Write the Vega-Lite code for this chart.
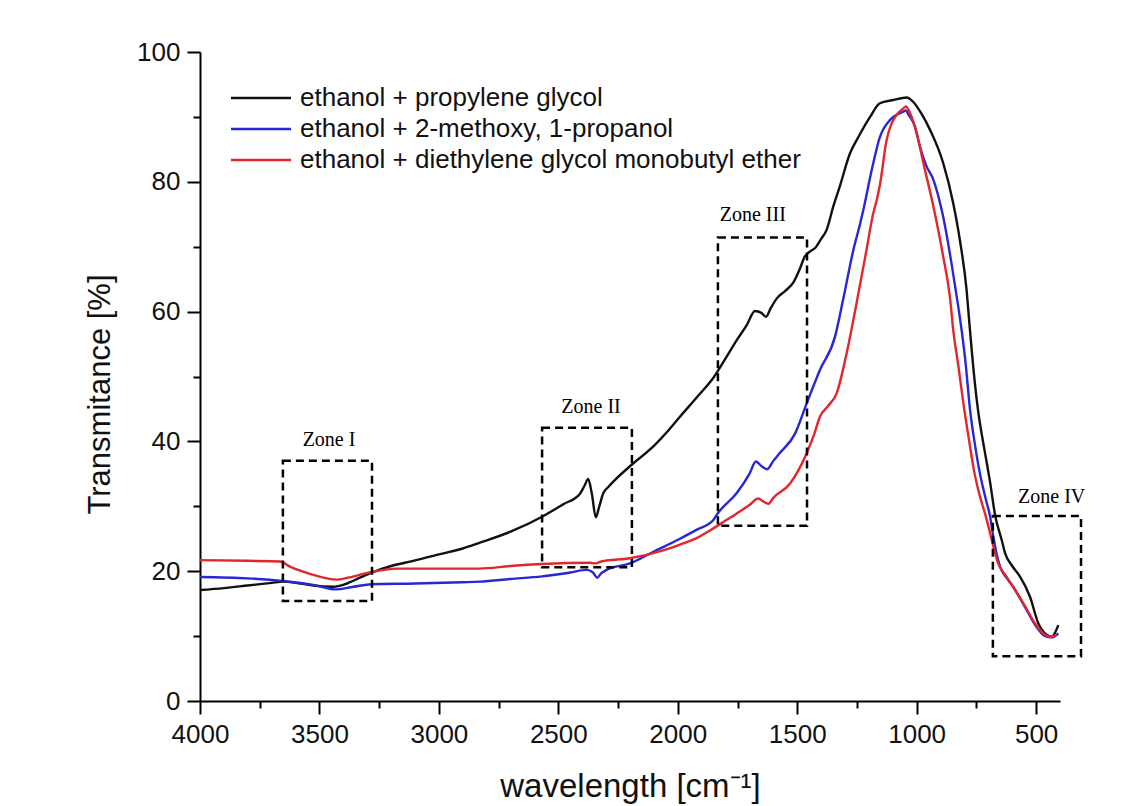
{
  "$schema": "https://vega.github.io/schema/vega-lite/v6.json",
  "width": 860,
  "height": 649,
  "autosize": {"type": "none"},
  "padding": {"left": 200, "top": 52, "right": 78, "bottom": 105},
  "background": "white",
  "config": {"view": {"stroke": null}},
  "resolve": {"axis": {"x": "independent", "y": "independent"}},
  "datasets": {
    "spectra": [
      {"s":"ethanol + propylene glycol","w":4000,"t":17.1},{"s":"ethanol + propylene glycol","w":3900,"t":17.4},{"s":"ethanol + propylene glycol","w":3800,"t":17.8},{"s":"ethanol + propylene glycol","w":3700,"t":18.2},{"s":"ethanol + propylene glycol","w":3653,"t":18.4},{"s":"ethanol + propylene glycol","w":3580,"t":18.1},{"s":"ethanol + propylene glycol","w":3526,"t":17.8},{"s":"ethanol + propylene glycol","w":3442,"t":17.6},{"s":"ethanol + propylene glycol","w":3386,"t":18.1},{"s":"ethanol + propylene glycol","w":3330,"t":19.0},{"s":"ethanol + propylene glycol","w":3280,"t":19.8},{"s":"ethanol + propylene glycol","w":3200,"t":20.8},{"s":"ethanol + propylene glycol","w":3107,"t":21.6},{"s":"ethanol + propylene glycol","w":3000,"t":22.6},{"s":"ethanol + propylene glycol","w":2900,"t":23.5},{"s":"ethanol + propylene glycol","w":2828,"t":24.4},{"s":"ethanol + propylene glycol","w":2700,"t":26.1},{"s":"ethanol + propylene glycol","w":2568,"t":28.4},{"s":"ethanol + propylene glycol","w":2480,"t":30.3},{"s":"ethanol + propylene glycol","w":2410,"t":31.9},{"s":"ethanol + propylene glycol","w":2390,"t":33.2},{"s":"ethanol + propylene glycol","w":2375,"t":34.2},{"s":"ethanol + propylene glycol","w":2360,"t":32.0},{"s":"ethanol + propylene glycol","w":2343,"t":28.3},{"s":"ethanol + propylene glycol","w":2330,"t":29.8},{"s":"ethanol + propylene glycol","w":2312,"t":32.0},{"s":"ethanol + propylene glycol","w":2290,"t":33.0},{"s":"ethanol + propylene glycol","w":2270,"t":33.8},{"s":"ethanol + propylene glycol","w":2193,"t":36.4},{"s":"ethanol + propylene glycol","w":2100,"t":39.3},{"s":"ethanol + propylene glycol","w":2046,"t":41.4},{"s":"ethanol + propylene glycol","w":1991,"t":43.8},{"s":"ethanol + propylene glycol","w":1920,"t":46.8},{"s":"ethanol + propylene glycol","w":1851,"t":49.8},{"s":"ethanol + propylene glycol","w":1800,"t":52.8},{"s":"ethanol + propylene glycol","w":1753,"t":55.6},{"s":"ethanol + propylene glycol","w":1710,"t":58.0},{"s":"ethanol + propylene glycol","w":1677,"t":60.1},{"s":"ethanol + propylene glycol","w":1650,"t":59.8},{"s":"ethanol + propylene glycol","w":1631,"t":59.2},{"s":"ethanol + propylene glycol","w":1610,"t":60.6},{"s":"ethanol + propylene glycol","w":1586,"t":62.0},{"s":"ethanol + propylene glycol","w":1550,"t":63.2},{"s":"ethanol + propylene glycol","w":1516,"t":64.5},{"s":"ethanol + propylene glycol","w":1490,"t":66.5},{"s":"ethanol + propylene glycol","w":1468,"t":68.5},{"s":"ethanol + propylene glycol","w":1445,"t":69.3},{"s":"ethanol + propylene glycol","w":1425,"t":69.8},{"s":"ethanol + propylene glycol","w":1400,"t":71.2},{"s":"ethanol + propylene glycol","w":1377,"t":72.6},{"s":"ethanol + propylene glycol","w":1349,"t":76.2},{"s":"ethanol + propylene glycol","w":1320,"t":79.5},{"s":"ethanol + propylene glycol","w":1279,"t":84.4},{"s":"ethanol + propylene glycol","w":1244,"t":86.9},{"s":"ethanol + propylene glycol","w":1195,"t":90.0},{"s":"ethanol + propylene glycol","w":1154,"t":92.1},{"s":"ethanol + propylene glycol","w":1098,"t":92.6},{"s":"ethanol + propylene glycol","w":1042,"t":93.0},{"s":"ethanol + propylene glycol","w":1014,"t":92.3},{"s":"ethanol + propylene glycol","w":980,"t":90.5},{"s":"ethanol + propylene glycol","w":944,"t":88.0},{"s":"ethanol + propylene glycol","w":889,"t":82.9},{"s":"ethanol + propylene glycol","w":847,"t":76.7},{"s":"ethanol + propylene glycol","w":819,"t":71.0},{"s":"ethanol + propylene glycol","w":791,"t":63.3},{"s":"ethanol + propylene glycol","w":780,"t":58.5},{"s":"ethanol + propylene glycol","w":760,"t":50.3},{"s":"ethanol + propylene glycol","w":742,"t":44.5},{"s":"ethanol + propylene glycol","w":720,"t":39.5},{"s":"ethanol + propylene glycol","w":707,"t":36.8},{"s":"ethanol + propylene glycol","w":693,"t":33.8},{"s":"ethanol + propylene glycol","w":672,"t":28.7},{"s":"ethanol + propylene glycol","w":644,"t":24.8},{"s":"ethanol + propylene glycol","w":630,"t":22.8},{"s":"ethanol + propylene glycol","w":600,"t":20.8},{"s":"ethanol + propylene glycol","w":568,"t":19.2},{"s":"ethanol + propylene glycol","w":526,"t":16.1},{"s":"ethanol + propylene glycol","w":491,"t":12.0},{"s":"ethanol + propylene glycol","w":456,"t":10.2},{"s":"ethanol + propylene glycol","w":435,"t":9.9},{"s":"ethanol + propylene glycol","w":420,"t":10.6},{"s":"ethanol + propylene glycol","w":407,"t":11.7},
      {"s":"ethanol + 2-methoxy, 1-propanol","w":4000,"t":19.1},{"s":"ethanol + 2-methoxy, 1-propanol","w":3800,"t":18.9},{"s":"ethanol + 2-methoxy, 1-propanol","w":3653,"t":18.5},{"s":"ethanol + 2-methoxy, 1-propanol","w":3526,"t":17.9},{"s":"ethanol + 2-methoxy, 1-propanol","w":3435,"t":17.2},{"s":"ethanol + 2-methoxy, 1-propanol","w":3358,"t":17.6},{"s":"ethanol + 2-methoxy, 1-propanol","w":3282,"t":18.0},{"s":"ethanol + 2-methoxy, 1-propanol","w":3100,"t":18.1},{"s":"ethanol + 2-methoxy, 1-propanol","w":2900,"t":18.3},{"s":"ethanol + 2-methoxy, 1-propanol","w":2828,"t":18.4},{"s":"ethanol + 2-methoxy, 1-propanol","w":2700,"t":18.8},{"s":"ethanol + 2-methoxy, 1-propanol","w":2568,"t":19.2},{"s":"ethanol + 2-methoxy, 1-propanol","w":2450,"t":19.8},{"s":"ethanol + 2-methoxy, 1-propanol","w":2381,"t":20.2},{"s":"ethanol + 2-methoxy, 1-propanol","w":2355,"t":19.8},{"s":"ethanol + 2-methoxy, 1-propanol","w":2337,"t":19.0},{"s":"ethanol + 2-methoxy, 1-propanol","w":2320,"t":19.7},{"s":"ethanol + 2-methoxy, 1-propanol","w":2298,"t":20.2},{"s":"ethanol + 2-methoxy, 1-propanol","w":2200,"t":21.2},{"s":"ethanol + 2-methoxy, 1-propanol","w":2102,"t":23.0},{"s":"ethanol + 2-methoxy, 1-propanol","w":1991,"t":25.0},{"s":"ethanol + 2-methoxy, 1-propanol","w":1920,"t":26.4},{"s":"ethanol + 2-methoxy, 1-propanol","w":1851,"t":27.9},{"s":"ethanol + 2-methoxy, 1-propanol","w":1833,"t":28.9},{"s":"ethanol + 2-methoxy, 1-propanol","w":1754,"t":32.0},{"s":"ethanol + 2-methoxy, 1-propanol","w":1700,"t":35.0},{"s":"ethanol + 2-methoxy, 1-propanol","w":1673,"t":36.9},{"s":"ethanol + 2-methoxy, 1-propanol","w":1650,"t":36.2},{"s":"ethanol + 2-methoxy, 1-propanol","w":1626,"t":35.7},{"s":"ethanol + 2-methoxy, 1-propanol","w":1600,"t":37.0},{"s":"ethanol + 2-methoxy, 1-propanol","w":1573,"t":38.2},{"s":"ethanol + 2-methoxy, 1-propanol","w":1509,"t":41.2},{"s":"ethanol + 2-methoxy, 1-propanol","w":1460,"t":45.9},{"s":"ethanol + 2-methoxy, 1-propanol","w":1405,"t":51.0},{"s":"ethanol + 2-methoxy, 1-propanol","w":1342,"t":56.1},{"s":"ethanol + 2-methoxy, 1-propanol","w":1307,"t":62.0},{"s":"ethanol + 2-methoxy, 1-propanol","w":1265,"t":69.5},{"s":"ethanol + 2-methoxy, 1-propanol","w":1237,"t":73.5},{"s":"ethanol + 2-methoxy, 1-propanol","w":1223,"t":75.7},{"s":"ethanol + 2-methoxy, 1-propanol","w":1190,"t":81.5},{"s":"ethanol + 2-methoxy, 1-propanol","w":1154,"t":86.9},{"s":"ethanol + 2-methoxy, 1-propanol","w":1112,"t":89.5},{"s":"ethanol + 2-methoxy, 1-propanol","w":1098,"t":90.0},{"s":"ethanol + 2-methoxy, 1-propanol","w":1056,"t":90.8},{"s":"ethanol + 2-methoxy, 1-propanol","w":1045,"t":91.0},{"s":"ethanol + 2-methoxy, 1-propanol","w":1035,"t":90.4},{"s":"ethanol + 2-methoxy, 1-propanol","w":1007,"t":88.5},{"s":"ethanol + 2-methoxy, 1-propanol","w":986,"t":85.4},{"s":"ethanol + 2-methoxy, 1-propanol","w":960,"t":82.5},{"s":"ethanol + 2-methoxy, 1-propanol","w":930,"t":80.3},{"s":"ethanol + 2-methoxy, 1-propanol","w":889,"t":74.6},{"s":"ethanol + 2-methoxy, 1-propanol","w":854,"t":67.4},{"s":"ethanol + 2-methoxy, 1-propanol","w":826,"t":60.8},{"s":"ethanol + 2-methoxy, 1-propanol","w":812,"t":57.2},{"s":"ethanol + 2-methoxy, 1-propanol","w":795,"t":52.0},{"s":"ethanol + 2-methoxy, 1-propanol","w":777,"t":45.0},{"s":"ethanol + 2-methoxy, 1-propanol","w":756,"t":39.5},{"s":"ethanol + 2-methoxy, 1-propanol","w":735,"t":35.0},{"s":"ethanol + 2-methoxy, 1-propanol","w":710,"t":31.0},{"s":"ethanol + 2-methoxy, 1-propanol","w":693,"t":28.5},{"s":"ethanol + 2-methoxy, 1-propanol","w":679,"t":25.3},{"s":"ethanol + 2-methoxy, 1-propanol","w":665,"t":22.6},{"s":"ethanol + 2-methoxy, 1-propanol","w":651,"t":20.7},{"s":"ethanol + 2-methoxy, 1-propanol","w":620,"t":18.8},{"s":"ethanol + 2-methoxy, 1-propanol","w":596,"t":17.6},{"s":"ethanol + 2-methoxy, 1-propanol","w":547,"t":14.5},{"s":"ethanol + 2-methoxy, 1-propanol","w":498,"t":11.4},{"s":"ethanol + 2-methoxy, 1-propanol","w":463,"t":10.0},{"s":"ethanol + 2-methoxy, 1-propanol","w":435,"t":9.8},{"s":"ethanol + 2-methoxy, 1-propanol","w":407,"t":10.4},
      {"s":"ethanol + diethylene glycol monobutyl ether","w":4000,"t":21.7},{"s":"ethanol + diethylene glycol monobutyl ether","w":3800,"t":21.6},{"s":"ethanol + diethylene glycol monobutyl ether","w":3665,"t":21.5},{"s":"ethanol + diethylene glycol monobutyl ether","w":3623,"t":20.7},{"s":"ethanol + diethylene glycol monobutyl ether","w":3540,"t":19.6},{"s":"ethanol + diethylene glycol monobutyl ether","w":3428,"t":18.7},{"s":"ethanol + diethylene glycol monobutyl ether","w":3380,"t":19.0},{"s":"ethanol + diethylene glycol monobutyl ether","w":3302,"t":19.7},{"s":"ethanol + diethylene glycol monobutyl ether","w":3177,"t":20.4},{"s":"ethanol + diethylene glycol monobutyl ether","w":3000,"t":20.4},{"s":"ethanol + diethylene glycol monobutyl ether","w":2828,"t":20.4},{"s":"ethanol + diethylene glycol monobutyl ether","w":2700,"t":20.8},{"s":"ethanol + diethylene glycol monobutyl ether","w":2568,"t":21.1},{"s":"ethanol + diethylene glycol monobutyl ether","w":2367,"t":21.3},{"s":"ethanol + diethylene glycol monobutyl ether","w":2345,"t":21.2},{"s":"ethanol + diethylene glycol monobutyl ether","w":2320,"t":21.5},{"s":"ethanol + diethylene glycol monobutyl ether","w":2200,"t":22.0},{"s":"ethanol + diethylene glycol monobutyl ether","w":2061,"t":23.2},{"s":"ethanol + diethylene glycol monobutyl ether","w":1991,"t":24.1},{"s":"ethanol + diethylene glycol monobutyl ether","w":1921,"t":25.1},{"s":"ethanol + diethylene glycol monobutyl ether","w":1851,"t":26.6},{"s":"ethanol + diethylene glycol monobutyl ether","w":1800,"t":27.8},{"s":"ethanol + diethylene glycol monobutyl ether","w":1753,"t":28.9},{"s":"ethanol + diethylene glycol monobutyl ether","w":1700,"t":30.2},{"s":"ethanol + diethylene glycol monobutyl ether","w":1663,"t":31.2},{"s":"ethanol + diethylene glycol monobutyl ether","w":1640,"t":30.7},{"s":"ethanol + diethylene glycol monobutyl ether","w":1621,"t":30.4},{"s":"ethanol + diethylene glycol monobutyl ether","w":1600,"t":31.3},{"s":"ethanol + diethylene glycol monobutyl ether","w":1530,"t":33.5},{"s":"ethanol + diethylene glycol monobutyl ether","w":1460,"t":38.2},{"s":"ethanol + diethylene glycol monobutyl ether","w":1430,"t":41.0},{"s":"ethanol + diethylene glycol monobutyl ether","w":1405,"t":43.8},{"s":"ethanol + diethylene glycol monobutyl ether","w":1370,"t":45.5},{"s":"ethanol + diethylene glycol monobutyl ether","w":1335,"t":47.4},{"s":"ethanol + diethylene glycol monobutyl ether","w":1293,"t":53.6},{"s":"ethanol + diethylene glycol monobutyl ether","w":1244,"t":62.8},{"s":"ethanol + diethylene glycol monobutyl ether","w":1210,"t":69.5},{"s":"ethanol + diethylene glycol monobutyl ether","w":1182,"t":75.1},{"s":"ethanol + diethylene glycol monobutyl ether","w":1167,"t":77.2},{"s":"ethanol + diethylene glycol monobutyl ether","w":1154,"t":79.5},{"s":"ethanol + diethylene glycol monobutyl ether","w":1126,"t":86.4},{"s":"ethanol + diethylene glycol monobutyl ether","w":1105,"t":89.0},{"s":"ethanol + diethylene glycol monobutyl ether","w":1084,"t":90.3},{"s":"ethanol + diethylene glycol monobutyl ether","w":1056,"t":91.3},{"s":"ethanol + diethylene glycol monobutyl ether","w":1045,"t":91.6},{"s":"ethanol + diethylene glycol monobutyl ether","w":1028,"t":90.6},{"s":"ethanol + diethylene glycol monobutyl ether","w":1000,"t":87.5},{"s":"ethanol + diethylene glycol monobutyl ether","w":972,"t":82.9},{"s":"ethanol + diethylene glycol monobutyl ether","w":930,"t":76.2},{"s":"ethanol + diethylene glycol monobutyl ether","w":889,"t":68.5},{"s":"ethanol + diethylene glycol monobutyl ether","w":861,"t":62.3},{"s":"ethanol + diethylene glycol monobutyl ether","w":847,"t":57.2},{"s":"ethanol + diethylene glycol monobutyl ether","w":825,"t":51.5},{"s":"ethanol + diethylene glycol monobutyl ether","w":805,"t":46.0},{"s":"ethanol + diethylene glycol monobutyl ether","w":780,"t":40.0},{"s":"ethanol + diethylene glycol monobutyl ether","w":760,"t":35.5},{"s":"ethanol + diethylene glycol monobutyl ether","w":735,"t":31.5},{"s":"ethanol + diethylene glycol monobutyl ether","w":714,"t":28.9},{"s":"ethanol + diethylene glycol monobutyl ether","w":690,"t":25.5},{"s":"ethanol + diethylene glycol monobutyl ether","w":672,"t":22.8},{"s":"ethanol + diethylene glycol monobutyl ether","w":659,"t":21.2},{"s":"ethanol + diethylene glycol monobutyl ether","w":630,"t":19.5},{"s":"ethanol + diethylene glycol monobutyl ether","w":602,"t":17.9},{"s":"ethanol + diethylene glycol monobutyl ether","w":554,"t":15.1},{"s":"ethanol + diethylene glycol monobutyl ether","w":505,"t":12.0},{"s":"ethanol + diethylene glycol monobutyl ether","w":470,"t":10.4},{"s":"ethanol + diethylene glycol monobutyl ether","w":442,"t":9.9},{"s":"ethanol + diethylene glycol monobutyl ether","w":414,"t":10.2}
    ],
    "zones": [
      {"zone":"Zone I","w1":3653,"w2":3280,"t1":15.4,"t2":37.0,"wl":3460,"tl":40.2},
      {"zone":"Zone II","w1":2568,"w2":2192,"t1":20.6,"t2":42.1,"wl":2363,"tl":45.3},
      {"zone":"Zone III","w1":1832,"w2":1459,"t1":27.0,"t2":71.4,"wl":1686,"tl":74.9},
      {"zone":"Zone IV","w1":681,"w2":312,"t1":6.9,"t2":28.5,"wl":435,"tl":31.5}
    ]
  },
  "layer": [
    {
      "data": {"name": "spectra"},
      "mark": {"type": "line", "strokeWidth": 2.4, "interpolate": "monotone"},
      "encoding": {
        "x": {
          "field": "w", "type": "quantitative",
          "scale": {"domain": [400, 4000], "reverse": true, "nice": false, "zero": false},
          "axis": {
            "orient": "bottom",
            "title": "wavelength [cm⁻¹]",
            "values": [4000,3500,3000,2500,2000,1500,1000,500],
            "tickSize": 13,
            "format": "d", "grid": false, "labelFlush": false, "labelOverlap": false,
            "domainColor": "#000", "domainWidth": 2, "tickColor": "#000", "tickWidth": 2,
            "labelFont": "Liberation Sans", "labelFontSize": 26, "labelColor": "#111", "labelPadding": 7,
            "titleFont": "Liberation Sans", "titleFontSize": 33, "titleFontWeight": "normal", "titleColor": "#111", "titlePadding": 23
          }
        },
        "y": {
          "field": "t", "type": "quantitative",
          "scale": {"domain": [0, 100], "nice": false},
          "axis": {
            "orient": "left",
            "title": "Transmitance [%]",
            "values": [0,20,40,60,80,100],
            "tickSize": 13,
            "grid": false, "labelFlush": false, "labelOverlap": false,
            "domainColor": "#000", "domainWidth": 2, "tickColor": "#000", "tickWidth": 2,
            "labelFont": "Liberation Sans", "labelFontSize": 26, "labelColor": "#111", "labelPadding": 7,
            "titleFont": "Liberation Sans", "titleFontSize": 31, "titleFontWeight": "normal", "titleColor": "#111", "titlePadding": 20, "titleY": 342
          }
        },
        "color": {
          "field": "s", "type": "nominal",
          "scale": {
            "domain": ["ethanol + propylene glycol", "ethanol + 2-methoxy, 1-propanol", "ethanol + diethylene glycol monobutyl ether"],
            "range": ["#111111", "#2727d6", "#e3262b"]
          },
          "legend": {
            "orient": "none", "legendX": 28, "legendY": 33, "title": null, "padding": 0,
            "symbolType": "M-1,0H5", "symbolSize": 400, "symbolStrokeWidth": 2.5,
            "labelFont": "Liberation Sans", "labelFontSize": 26, "labelColor": "#111", "labelOffset": 46, "rowPadding": 5, "labelLimit": 800
          }
        }
      }
    },
    {
      "data": {"name": "zones"},
      "mark": {"type": "rect", "fill": "transparent", "stroke": "#000", "strokeWidth": 2.5, "strokeDash": [8, 5]},
      "encoding": {
        "x": {"field": "w1", "type": "quantitative",
          "axis": {"orient": "bottom", "values": [3750,3250,2750,2250,1750,1250,750], "labels": false, "domain": false, "grid": false, "title": null, "tickSize": 7, "tickWidth": 2, "tickColor": "#000"}},
        "x2": {"field": "w2"},
        "y": {"field": "t1", "type": "quantitative",
          "axis": {"orient": "left", "values": [10,30,50,70,90], "labels": false, "domain": false, "grid": false, "title": null, "tickSize": 7, "tickWidth": 2, "tickColor": "#000"}},
        "y2": {"field": "t2"}
      }
    },
    {
      "data": {"name": "zones"},
      "mark": {"type": "text", "font": "Liberation Serif", "fontSize": 20, "color": "#000", "align": "center", "baseline": "middle"},
      "encoding": {
        "x": {"field": "wl", "type": "quantitative", "axis": null},
        "y": {"field": "tl", "type": "quantitative", "axis": null},
        "text": {"field": "zone"}
      }
    }
  ]
}
